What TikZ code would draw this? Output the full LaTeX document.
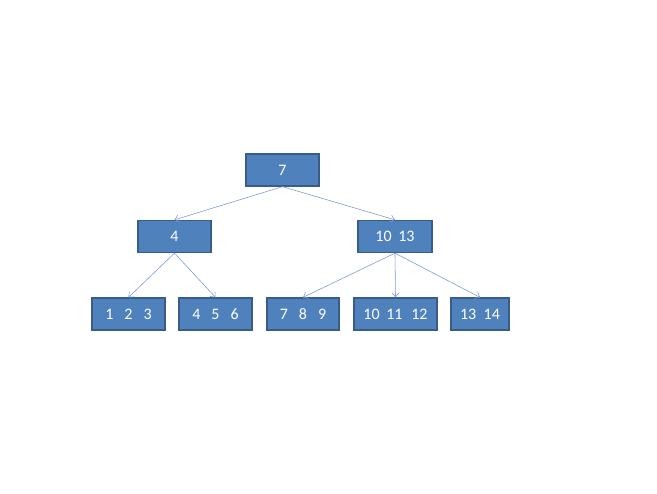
\documentclass[tikz,border=0pt]{standalone}
\usepackage{fontspec}
\setmainfont{Carlito}
\usetikzlibrary{arrows.meta}
\definecolor{boxfill}{HTML}{4F81BD}
\definecolor{boxline}{HTML}{385D8A}
\definecolor{linkline}{HTML}{7E9ECF}
\newcommand{\gap}[1]{\hspace{#1pt}}
\tikzset{
  keybox/.style={draw=boxline, line width=1.3pt, fill=boxfill, text=white,
    minimum height=32pt, inner sep=0pt, font=\fontsize{16}{18}\selectfont},
  link/.style={draw=linkline, line width=0.6pt, -{Straight Barb[length=4pt,width=7pt]}}
}
\begin{document}
\begin{tikzpicture}[x=1pt,y=-1pt]
      \useasboundingbox (0,0) rectangle (657,494);
      \draw
        (282.5,170) node[keybox, minimum width=73pt] (r){7}
        (174.5,236.5) node[keybox, minimum width=73pt] (a){4}
        (395,236.5) node[keybox, minimum width=74pt] (b){10\gap{6.7}13}
        (128.5,314) node[keybox, minimum width=73pt] (l1){1\gap{11}2\gap{11}3}
        (215.5,314) node[keybox, minimum width=73pt] (l2){4\gap{11}5\gap{11}6}
        (303,314) node[keybox, minimum width=72pt] (l3){7\gap{11}8\gap{11}9}
        (395.5,314) node[keybox, minimum width=83pt] (l4){10\gap{6.6}11\gap{8.8}12}
        (480,314) node[keybox, minimum width=58pt] (l5){13\gap{7.5}14};
      \begin{scope}[link]
        \draw (r.south) to (a.north);
        \draw (r.south) to (b.north);
        \draw (a.south) to (l1.north);
        \draw (a.south) to (l2.north);
        \draw (b.south) to (l3.north);
        \draw (b.south) to (l4.north);
        \draw (b.south) to (l5.north);
      \end{scope}
    \end{tikzpicture}
\end{document}
